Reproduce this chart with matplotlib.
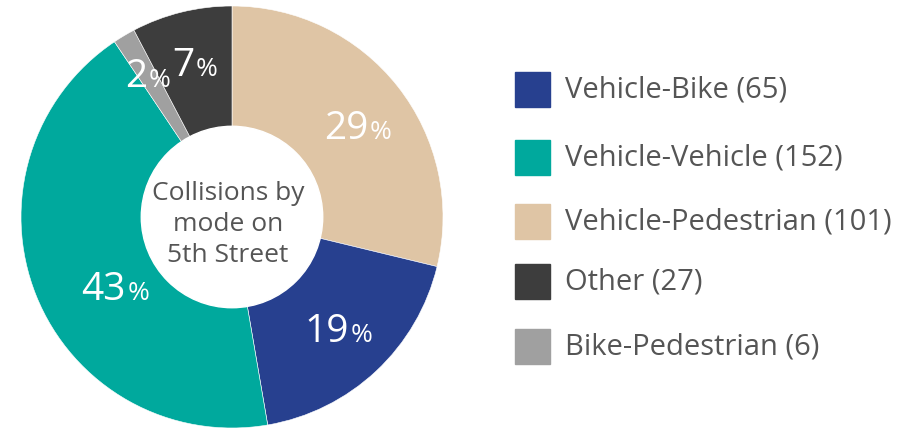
import matplotlib
matplotlib.use("Agg")
import matplotlib.pyplot as plt
from matplotlib.patches import Rectangle, Circle
from matplotlib.offsetbox import TextArea, HPacker, AnnotationBbox
import numpy as np

plt.rcParams["font.family"] = ["Open Sans", "DejaVu Sans"]

# legend order
categories = ["Vehicle-Bike", "Vehicle-Vehicle", "Vehicle-Pedestrian", "Other", "Bike-Pedestrian"]
counts = [65, 152, 101, 27, 6]
colors = ["#27408f", "#00a99d", "#dfc5a5", "#3d3d3d", "#a0a0a0"]
pct_labels = ["19", "43", "29", "7", "2"]

# clockwise order of the wedges from 12 o'clock
pie_order = [2, 0, 1, 4, 3]
center_text = "Collisions by\nmode on\n5th Street"

fig = plt.figure(figsize=(9.07, 4.31), dpi=100)
ax = fig.add_axes([21 / 907, 2 / 431, 422 / 907, 422 / 431])

vals = [counts[i] for i in pie_order]
cols = [colors[i] for i in pie_order]
wedges, _ = ax.pie(vals, colors=cols, startangle=90, counterclock=False,
                   radius=1.0, wedgeprops=dict(width=0.58, edgecolor="white", linewidth=0.4))
ax.add_patch(Circle((0, 0), 0.43, color="white", zorder=3))
ax.set_xlim(-1, 1)
ax.set_ylim(-1, 1)
ax.set_aspect("equal")
ax.axis("off")

# percentage labels: radius and small angle nudge per category
label_r = {2: 0.73, 0: 0.74, 1: 0.65, 4: 0.78, 3: 0.74}
label_da = {2: -3, 0: 0, 1: 10, 4: 0, 3: 0}
for w, i in zip(wedges, pie_order):
    ang = np.deg2rad((w.theta1 + w.theta2) / 2 + label_da[i])
    r = label_r[i]
    x, y = r * np.cos(ang), r * np.sin(ang)
    num = TextArea(pct_labels[i], textprops=dict(color="white", fontsize=28))
    pc = TextArea("%", textprops=dict(color="white", fontsize=19))
    box = HPacker(children=[num, pc], align="baseline", pad=0, sep=1)
    ab = AnnotationBbox(box, (x, y), frameon=False, box_alignment=(0.5, 0.5), zorder=5)
    ax.add_artist(ab)

ax.text(-0.02, -0.03, center_text, ha="center", va="center", fontsize=19,
        color="#555555", linespacing=1.3, zorder=4)

# legend
sq = 35
y_centers = [90, 158, 222, 282, 347]
for cat, n, c, yc in zip(categories, counts, colors, y_centers):
    fig.patches.append(Rectangle((515 / 907, (431 - yc - sq / 2) / 431), sq / 907, sq / 431,
                                 transform=fig.transFigure, color=c))
    fig.text(565 / 907, (431 - yc) / 431, f"{cat} ({n})", fontsize=21,
             color="#555555", va="center", ha="left")

fig.savefig("out.png", dpi=100)
